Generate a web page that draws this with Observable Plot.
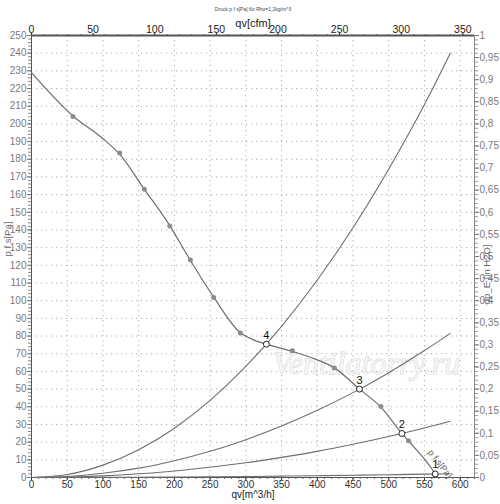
<!DOCTYPE html>
<html>
<head>
<meta charset="utf-8">
<script src="https://cdn.jsdelivr.net/npm/d3@7"></script>
<script src="https://cdn.jsdelivr.net/npm/@observablehq/plot@0.6"></script>
<style>
  html, body { margin: 0; padding: 0; background: #fff; }
  #chart svg { display: block; }
</style>
</head>
<body>
<div id="chart"></div>
<script>
// ---- data ----
const titleText = "Druck p f s[Pa] für Rho=1,2kg/m^3";

// fan curve p f s [Pa] over qv [m^3/h]
const fanFlow     = [0, 58, 99, 123, 158, 193.5, 222, 255, 292, 310, 328.7, 366, 400, 424, 459, 489, 518.4, 528, 565, 568];
const fanPressure = [229, 204.5, 192, 183, 163, 142.5, 123, 102, 82, 78, 75.4, 71.2, 66.5, 62, 50, 39.8, 24.9, 20.5, 2, 0];

// measured points drawn as grey dots on the fan curve
const measFlow     = [58, 123.5, 158, 193.5, 222.4, 255, 292.3, 365, 424, 489, 527.7];
const measPressure = [204.2, 183.5, 163, 142.3, 123, 101.8, 81.7, 71.7, 61.9, 40.2, 20.8];

// system curves (sampled)
const sysFlow = [0, 50, 100, 150, 200, 250, 300, 350, 400, 450, 500, 550, 586];
const sys1 = [0, 0.02, 0.06, 0.14, 0.25, 0.39, 0.57, 0.77, 1.0, 1.28, 1.58, 1.9, 2.16];
const sys2 = [0, 0.2, 0.9, 2.1, 3.7, 5.8, 8.3, 11.4, 14.8, 18.8, 23.2, 28, 31.8];
const sys3 = [0, 0.6, 2.4, 5.3, 9.5, 14.8, 21.4, 29.1, 38, 48, 59.3, 71.8, 81.5];
const sys4 = [0, 1.7, 7, 15.7, 27.9, 43.6, 62.8, 85.5, 111.7, 141.3, 174.5, 211, 240];

// operating points
const opLabels   = ["1", "2", "3", "4"];
const opFlow     = [565, 518.4, 459, 328.7];
const opPressure = [2, 24.9, 50, 75.4];

// axes
const xTicks     = [0, 50, 100, 150, 200, 250, 300, 350, 400, 450, 500, 550, 600];
const xMinor     = d3.range(0, 621, 10);
const yTicks     = d3.range(0, 251, 10);
const yMinor     = d3.range(0, 251, 2);
const cfmTicks   = [0, 50, 100, 150, 200, 250, 300, 350];
const cfmMinor   = d3.range(0, 361, 10);
const inH2OTicks = d3.range(0, 21).map(i => i * 0.05);
const inH2OMinor = d3.range(0, 101).map(i => i * 0.01);
const cfmPerM3h  = 1.725;   // spacing of the top axis as drawn
const paPerUnitRight = 250; // right axis 0..1 spans the same height as 0..250 Pa

// ---- build tables ----
const fan  = fanFlow.map((q, i) => ({q, p: fanPressure[i]}));
const meas = measFlow.map((q, i) => ({q, p: measPressure[i]}));
const sys  = [sys1, sys2, sys3, sys4].flatMap((arr, k) => sysFlow.map((q, i) => ({q, p: arr[i], s: k + 1})));
const ops  = opFlow.map((q, i) => ({q, p: opPressure[i], label: opLabels[i]}));

const grey = "#6e6e6e";
const font = "Liberation Sans, Arial, sans-serif";
const fmtComma = v => {
  const r = Math.round(v * 100) / 100;
  return String(r).replace(".", ",");
};
const blank = () => "";

const chart = Plot.plot({
  width: 500,
  height: 504,
  marginLeft: 31,
  marginRight: 26,
  marginTop: 35,
  marginBottom: 27,
  x: {domain: [0, 620]},
  y: {domain: [0, 250]},
  style: {fontFamily: font, background: "#fff", overflow: "visible"},
  marks: [
    // dotted grid
    Plot.gridX(xTicks, {stroke: "#9a9a9a", strokeOpacity: 0.8, strokeDasharray: "1.2,3.8"}),
    Plot.gridY(yTicks, {stroke: "#9a9a9a", strokeOpacity: 0.8, strokeDasharray: "1.2,3.8"}),

    // watermark
    Plot.text(["Ventilatorry.ru"], {frameAnchor: "top-left", dx: 335, dy: 316,
      fontSize: 32, fontStyle: "italic", fontFamily: "Liberation Serif, serif",
      fill: "#f4f4f4", stroke: "#d2d2d2", strokeWidth: 0.9, textAnchor: "middle"}),

    // left axis (Pa)
    Plot.axisY({anchor: "left", ticks: yMinor, tickSize: 3, tickFormat: blank, color: "#888", label: null}),
    Plot.axisY({anchor: "left", ticks: yTicks, tickSize: 4, tickPadding: 1, fontSize: 10, color: "#7a7a7a", label: null}),

    // right axis (in H2O)
    Plot.axisY({anchor: "right", ticks: inH2OMinor.map(v => v * paPerUnitRight), tickSize: 3, tickFormat: blank, color: "#999", label: null}),
    Plot.axisY({anchor: "right", ticks: inH2OTicks.map(v => v * paPerUnitRight), tickSize: 4, tickPadding: 1,
      tickFormat: d => fmtComma(d / paPerUnitRight), fontSize: 10, color: "#7a7a7a", label: null}),

    // bottom axis (m^3/h)
    Plot.axisX({anchor: "bottom", ticks: xMinor, tickSize: 2, tickFormat: blank, color: "#666", label: null}),
    Plot.axisX({anchor: "bottom", ticks: xTicks, tickSize: 3, tickPadding: 0, fontSize: 10, color: "#333", label: null}),

    // top axis (cfm)
    Plot.axisX({anchor: "top", ticks: cfmMinor.map(c => c * cfmPerM3h).filter(v => v <= 620), tickSize: 2, tickFormat: blank, color: "#666", label: null}),
    Plot.axisX({anchor: "top", ticks: cfmTicks.map(c => c * cfmPerM3h), tickSize: 3, tickPadding: 0,
      tickFormat: d => Math.round(d / cfmPerM3h), fontSize: 10.5, color: "#222", label: null}),

    // frame lines
    Plot.ruleX([0], {stroke: "#555", strokeWidth: 1}),
    Plot.ruleX([620], {stroke: "#888", strokeWidth: 1}),
    Plot.ruleY([0], {stroke: "#555", strokeWidth: 1}),
    Plot.ruleY([250], {stroke: "#555", strokeWidth: 2}),

    // system curves
    Plot.line(sys, {x: "q", y: "p", z: "s", curve: "natural", stroke: grey, strokeWidth: 1.1}),

    // fan curve
    Plot.line(fan, {x: "q", y: "p", curve: "monotone-x", stroke: grey, strokeWidth: 1.2}),
    Plot.dot(meas, {x: "q", y: "p", r: 2.5, fill: "#8c8c8c", stroke: "none"}),

    // operating points
    Plot.dot(ops, {x: "q", y: "p", r: 3, fill: "#fff", stroke: "#222", strokeWidth: 1}),
    Plot.text(ops, {x: "q", y: "p", text: "label", dy: -9, fontSize: 11, fill: "#111"}),

    // curve label near the end of the fan curve
    Plot.text(["p f s[Pa]"], {x: () => 562, y: () => 6.6, rotate: 52, dx: 7, dy: -2, fontSize: 9, fill: "#666"}),

    // titles and axis labels
    Plot.text([titleText], {frameAnchor: "top", dy: -28, fontSize: 5, fill: "#444"}),
    Plot.text(["qv[cfm]"], {frameAnchor: "top", dy: -16, fontSize: 11, fill: "#222"}),
    Plot.text(["qv[m^3/h]"], {frameAnchor: "bottom", dy: 20, fontSize: 10, fill: "#222"}),
    Plot.text(["p f s[Pa]"], {frameAnchor: "left", dx: -24, dy: 0, rotate: -90, fontSize: 9.5, fill: "#666"}),
    Plot.text(["dp_E [in H2O]"], {frameAnchor: "right", dx: 12, dy: -12, rotate: -90, fontSize: 9.5, fill: "#666"})
  ]
});
document.getElementById("chart").appendChild(chart);
</script>
</body>
</html>
